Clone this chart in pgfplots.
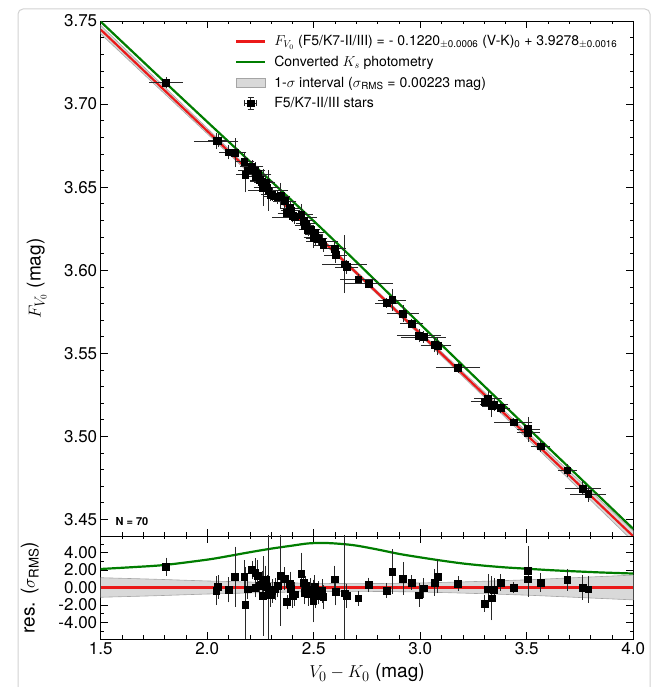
\documentclass[border=0pt]{standalone}
\usepackage{fontspec}
\setmainfont{TeX Gyre Heros}
\usepackage{pgfplots}
\usepackage{pgfplotstable}
\pgfplotsset{compat=1.18}
\usepgfplotslibrary{fillbetween}

\definecolor{fitred}{RGB}{235,25,25}
\definecolor{convgreen}{RGB}{0,125,0}
\definecolor{bandfill}{RGB}{217,217,217}
\definecolor{bandedge}{RGB}{165,165,165}
\definecolor{errcol}{RGB}{40,40,40}

\pgfplotstableread{
x y ex ey r er
1.806 3.71278 0.065 0.0016 2.38 0.7
2.042 3.67783 0.09 0.0029 -0.38 1.3
2.050 3.67788 0.03 0.0022 0.08 1.0
2.100 3.67100 0.03 0.0025 -0.27 1.1
2.130 3.67068 0.04 0.0069 1.23 3.1
2.174 3.66540 0.03 0.0033 1.27 1.5
2.178 3.65762 0.03 0.0090 -2.0 4.0
2.190 3.66017 0.03 0.0018 -0.2 0.8
2.210 3.66264 0.04 0.0016 2.0 0.7
2.225 3.66021 0.03 0.0029 1.73 1.3
2.225 3.65635 0.03 0.0018 0.0 0.8
2.237 3.65790 0.05 0.0033 1.35 1.5
2.246 3.65423 0.03 0.0022 0.2 1.0
2.257 3.65329 0.04 0.0027 0.38 1.2
2.262 3.64970 0.03 0.0094 -0.96 4.2
2.265 3.65276 0.03 0.0022 0.58 1.0
2.273 3.65264 0.03 0.0027 0.96 1.2
2.281 3.64974 0.04 0.0022 0.1 1.0
2.286 3.64806 0.08 0.0105 -0.38 8.0
2.297 3.64560 0.03 0.0022 -0.88 1.0
2.305 3.64570 0.03 0.0022 -0.4 1.0
2.318 3.64456 0.04 0.0020 -0.2 0.9
2.330 3.64399 0.03 0.0022 0.2 1.0
2.345 3.64472 0.03 0.0060 1.35 5.4
2.364 3.64162 0.04 0.0022 1.0 1.0
2.374 3.63449 0.03 0.0011 -1.65 0.5
2.388 3.63749 0.03 0.0022 0.46 1.0
2.390 3.63600 0.03 0.0018 -0.1 0.8
2.400 3.63286 0.03 0.0022 -0.96 1.0
2.410 3.63206 0.09 0.0022 -0.77 1.0
2.441 3.63343 0.04 0.0047 1.54 2.1
2.453 3.62983 0.03 0.0022 0.58 1.0
2.457 3.62675 0.03 0.0022 -0.58 1.0
2.461 3.62800 0.03 0.0018 0.2 0.8
2.473 3.62438 0.03 0.0022 -0.77 1.0
2.484 3.62431 0.03 0.0020 -0.2 0.9
2.497 3.61973 0.03 0.0047 -1.54 2.1
2.501 3.62156 0.03 0.0027 -0.5 1.2
2.504 3.62249 0.03 0.0022 0.08 1.0
2.510 3.61944 0.03 0.0022 -0.96 1.0
2.520 3.61907 0.03 0.0022 -0.58 1.0
2.540 3.61707 0.06 0.0022 -0.38 1.0
2.544 3.61502 0.03 0.0022 -1.08 1.0
2.597 3.61311 0.04 0.0027 0.96 1.2
2.603 3.60912 0.04 0.0027 -0.5 1.2
2.645 3.60366 0.09 0.0156 -0.65 8.0
2.654 3.60187 0.04 0.0022 -0.96 1.0
2.709 3.59456 0.07 0.0011 -1.23 0.5
2.758 3.59199 0.10 0.0011 0.3 0.5
2.842 3.58023 0.04 0.0011 -0.38 0.5
2.868 3.58203 0.05 0.0049 1.85 2.2
2.919 3.57400 0.06 0.0033 1.04 1.5
2.960 3.56797 0.04 0.0011 0.58 0.5
2.994 3.56057 0.09 0.0022 -0.88 1.0
3.015 3.55979 0.09 0.0018 -0.08 0.8
3.066 3.55504 0.05 0.0027 0.58 1.2
3.082 3.55463 0.05 0.0036 1.27 1.6
3.177 3.54123 0.09 0.0011 0.46 0.5
3.302 3.52083 0.05 0.0013 -1.85 0.6
3.318 3.52256 0.05 0.0031 -0.2 1.4
3.334 3.51831 0.03 0.0049 -1.23 2.2
3.346 3.51899 0.05 0.0022 -0.27 1.0
3.377 3.51710 0.03 0.0013 0.58 0.6
3.437 3.50849 0.075 0.0007 0.0 0.3
3.506 3.50435 0.04 0.0056 1.92 2.5
3.506 3.50221 0.04 0.0038 0.96 1.7
3.566 3.49404 0.03 0.0016 0.58 0.7
3.690 3.47958 0.03 0.0020 0.88 0.9
3.763 3.46871 0.07 0.0025 0.0 1.1
3.788 3.46522 0.07 0.0027 -0.2 1.2
}\stars

\pgfplotstableread{
x lo hi rlo rhi
1.50 3.74224 3.74736 -1.12 1.12
1.75 3.71218 3.71642 -0.95 0.95
2.00 3.68213 3.68547 -0.75 0.75
2.25 3.65196 3.65464 -0.60 0.60
2.50 3.62173 3.62387 -0.48 0.48
2.75 3.59130 3.59330 -0.45 0.45
3.00 3.56064 3.56296 -0.52 0.52
3.25 3.52978 3.53282 -0.68 0.68
3.50 3.49884 3.50276 -0.88 0.88
3.75 3.46774 3.47287 -1.15 1.15
4.00 3.43657 3.44303 -1.42 1.42
}\band

\pgfplotstableread{
x y r
1.50 3.74960 2.12
1.65 3.73144 2.33
1.80 3.71331 2.58
2.00 3.68932 3.19
2.10 3.67739 3.60
2.20 3.66549 4.04
2.30 3.65356 4.45
2.40 3.64160 4.80
2.475 3.63261 5.05
2.55 3.62350 5.10
2.625 3.61428 5.00
2.70 3.60500 4.80
2.80 3.59249 4.35
2.90 3.57996 3.85
3.00 3.56749 3.45
3.10 3.55504 3.08
3.20 3.54262 2.75
3.30 3.53026 2.50
3.40 3.51792 2.30
3.50 3.50562 2.15
3.60 3.49332 2.00
3.70 3.48104 1.88
3.85 3.46263 1.72
4.00 3.44425 1.60
}\conv

\pgfplotsset{
  common/.style={
    scale only axis, width=532.6pt,
    xmin=1.5, xmax=4.0,
    xtick={1.5,2.0,2.5,3.0,3.5,4.0}, minor x tick num=4,
    tick align=inside, tick pos=both,
    major tick length=7pt, minor tick length=3.5pt,
    every tick/.style={black, line width=0.6pt},
    axis line style={line width=0.9pt},
    tick label style={font=\fontsize{17}{17}\selectfont},
    label style={font=\fontsize{19}{19}\selectfont},
    /pgf/number format/assume math mode=true,
  },
  linelegend/.style={legend image code/.code={\draw[##1] (0pt,0pt) -- (29pt,0pt);}},
  boxlegend/.style={legend image code/.code={\draw[##1] (0pt,-4.5pt) rectangle (29pt,4.5pt);}},
  starlegend/.style={legend image code/.code={
      \draw[errcol, line width=0.7pt] (14.5pt,-6pt) -- (14.5pt,6pt) (8.5pt,0pt) -- (20.5pt,0pt)
        (11.5pt,-6pt) -- (17.5pt,-6pt) (11.5pt,6pt) -- (17.5pt,6pt)
        (8.5pt,-3pt) -- (8.5pt,3pt) (20.5pt,-3pt) -- (20.5pt,3pt);
      \fill[black] (11.2pt,-3.3pt) rectangle (17.8pt,3.3pt);}},
  starstyle/.style={only marks, mark=square*, mark size=3.4pt, black,
      error bars/error bar style={line width=0.75pt, errcol},
      error bars/error mark options={errcol, mark size=3pt, line width=0.75pt}},
}

\begin{document}
\begin{tikzpicture}

% main panel
\begin{axis}[common,
  at={(100.7pt,151pt)}, anchor=south west, height=515pt,
  ymin=3.44, ymax=3.75,
  ytick={3.45,3.50,3.55,3.60,3.65,3.70,3.75}, minor y tick num=4,
  yticklabel style={/pgf/number format/.cd, fixed, fixed zerofill, precision=2},
  xticklabels={},
  ylabel={$F_{V_0}$ (mag)},
  ylabel style={at={(axis description cs:-0.12,0.5)}, anchor=center},
  legend cell align=left,
  legend style={at={(axis description cs:0.252,0.976)}, anchor=north west,
    draw=none, fill=none, inner sep=0pt, row sep=4.8pt,
    font=\fontsize{14}{14}\selectfont,
    /tikz/every odd column/.append style={column sep=6pt}},
]
\addlegendimage{linelegend, fitred, line width=2.2pt}
\addlegendentry{$F_{V_0}$ (F5/K7-II/III) = - 0.1220\textsubscript{$\pm$0.0006} (V-K)\textsubscript{0} + 3.9278\textsubscript{$\pm$0.0016}}
\addlegendimage{linelegend, convgreen, line width=2.2pt}
\addlegendentry{Converted $K_s$ photometry}
\addlegendimage{boxlegend, fill=bandfill, draw=bandedge, line width=0.8pt}
\addlegendentry{1-$\sigma$ interval ($\sigma$\textsubscript{RMS} = 0.00223 mag)}
\addlegendimage{starlegend}
\addlegendentry{F5/K7-II/III stars}

\addplot[name path=blo, bandedge, line width=0.6pt, smooth, forget plot] table[x=x, y=lo] {\band};
\addplot[name path=bhi, bandedge, line width=0.6pt, smooth, forget plot] table[x=x, y=hi] {\band};
\addplot[bandfill, forget plot] fill between[of=bhi and blo];
\addplot[fitred, line width=2.2pt, forget plot] coordinates {(1.5,3.7448) (4.0,3.4398)};
\addplot[convgreen, line width=2.2pt, smooth, forget plot] table[x=x, y=y] {\conv};
\addplot[starstyle, forget plot, error bars/.cd, x dir=both, x explicit, y dir=both, y explicit]
  table[x=x, y=y, x error=ex, y error=ey] {\stars};
\node[anchor=west, font=\bfseries\fontsize{11}{11}\selectfont] at (axis cs:1.553,3.4488) {N = 70};
\end{axis}

% residual panel
\begin{axis}[common,
  at={(100.7pt,48pt)}, anchor=south west, height=103pt,
  ymin=-5.9, ymax=5.9,
  ytick={-4,-2,0,2,4}, minor ytick={-5,-3,-1,1,3,5},
  yticklabel style={/pgf/number format/.cd, fixed, fixed zerofill, precision=2},
  xticklabel style={/pgf/number format/.cd, fixed, fixed zerofill, precision=1},
  ylabel={res. ($\sigma$\textsubscript{RMS})},
  ylabel style={at={(axis description cs:-0.133,0.5)}, anchor=center},
  xlabel={$V_0 - K_0$ (mag)},
  xlabel style={at={(axis description cs:0.5,-0.33)}, anchor=center},
]
\addplot[name path=rlo, bandedge, line width=0.6pt, smooth] table[x=x, y=rlo] {\band};
\addplot[name path=rhi, bandedge, line width=0.6pt, smooth] table[x=x, y=rhi] {\band};
\addplot[bandfill] fill between[of=rhi and rlo];
\addplot[fitred, line width=2.2pt] coordinates {(1.5,0) (4.0,0)};
\addplot[convgreen, line width=2.2pt, smooth] table[x=x, y=r] {\conv};
\addplot[starstyle, error bars/.cd, y dir=both, y explicit]
  table[x=x, y=r, y error=er] {\stars};
\end{axis}
\draw[black!18, line width=1pt, rounded corners=5pt] (18pt,-6pt) -- (18pt,678pt) -- (650pt,678pt) -- (650pt,-6pt);
\pgfresetboundingbox
\path[use as bounding box] (0pt,0pt) rectangle (654pt,687pt);
\end{tikzpicture}
\end{document}
